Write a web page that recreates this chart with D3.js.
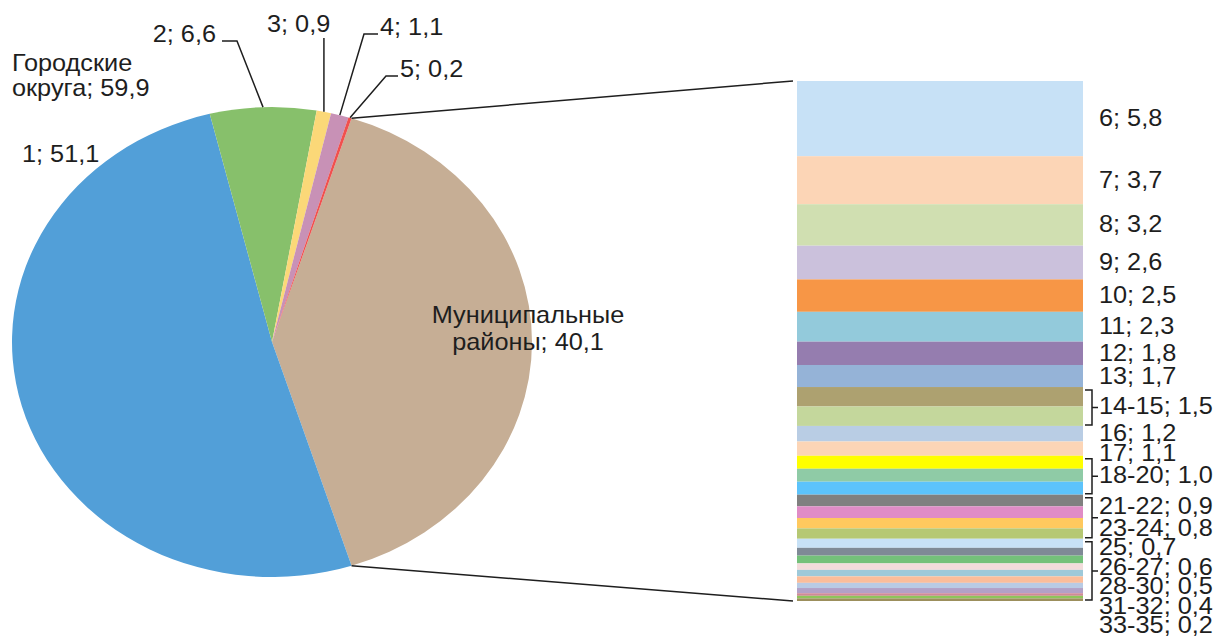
<!DOCTYPE html>
<html>
<head>
<meta charset="utf-8">
<script src="https://cdn.jsdelivr.net/npm/d3@7"></script>
<style>
  html, body { margin: 0; padding: 0; background: #ffffff; }
  svg { display: block; }
  text { font-family: "Liberation Sans", Arial, sans-serif; font-size: 23px; fill: #1e1e1e; }
</style>
</head>
<body>
<svg id="chart" width="1217" height="641"></svg>
<script>
// ---- Data ----
const pieCategories = ["1", "2", "3", "4", "5"];
const pieValues = [51.1, 6.6, 0.9, 1.1, 0.2];
const pieColors = ["#529fd8", "#87c06b", "#fbd878", "#c891b6", "#f0504e"];
const pieGroupName = "Городские округа";
const otherName = "Муниципальные районы";
const otherColor = "#c6ae95";

const stackCategories = ["6","7","8","9","10","11","12","13","14","15","16","17","18","19","20",
  "21","22","23","24","25","26","27","28","29","30","31","32","33","34","35"];
const stackValues = [5.8, 3.7, 3.2, 2.6, 2.5, 2.3, 1.8, 1.7, 1.5, 1.5, 1.2, 1.1, 1.0, 1.0, 1.0,
  0.9, 0.9, 0.8, 0.8, 0.7, 0.6, 0.6, 0.5, 0.5, 0.5, 0.4, 0.4, 0.2, 0.2, 0.2];
const stackColors = ["#c7e1f6","#fcd5b6","#d0dfb1","#cbc1dc","#f79646","#93cadb","#957daf","#95b3d7",
  "#ada170","#c4d79c","#b9cde4","#fcd5b6","#ffff00","#8fcba6","#5cc3fb",
  "#808080","#e08cc6","#ffc95e","#b6c873","#c7e1f6","#7f8a96","#74c17a","#f2dcdb","#9ec9d9","#fbbd9a",
  "#b9cbe4","#b2a1c7","#d08a98","#8fc45a","#9c8f5c"];

// label groups: [first category, last category]
const stackLabelGroups = [["6","6"],["7","7"],["8","8"],["9","9"],["10","10"],["11","11"],["12","12"],
  ["13","13"],["14","15"],["16","16"],["17","17"],["18","20"],["21","22"],["23","24"],["25","25"],
  ["26","27"],["28","30"],["31","32"],["33","35"]];
const bracketGroups = [["14","15"],["18","20"],["21","24"],["25","35"]];

const fmt = v => d3.format(".1f")(v).replace(".", ",");

// ---- Layout ----
const svg = d3.select("#chart");
const cx = 272, cy = 342, rx = 260, ry = 235;
const stackX0 = 797, stackX1 = 1083, stackTop = 81, stackBottom = 601;
const ink = "#1e1e1e";

function addText(x, y, str, anchor) {
  svg.append("text")
    .attr("transform", `translate(${x},${y}) scale(1.1,1)`)
    .attr("text-anchor", anchor || "start")
    .text(str);
}

// ---- Pie ----
const otherTotal = d3.sum(stackValues);
const pieTotal = d3.sum(pieValues) + otherTotal;
const otherAngle = 2 * Math.PI * otherTotal / pieTotal;
const startA = Math.PI / 2 - otherAngle / 2;

const pieData = [{ name: otherName, value: otherTotal, color: otherColor }]
  .concat(pieCategories.map((c, i) => ({ name: c, value: pieValues[i], color: pieColors[i] })));

const pie = d3.pie().sort(null).value(d => d.value).startAngle(startA).endAngle(startA + 2 * Math.PI);
const arcs = pie(pieData);
const arcGen = d3.arc().innerRadius(0).outerRadius(rx);

const pieG = svg.append("g").attr("transform", `translate(${cx},${cy}) scale(1,${ry / rx})`);
pieG.selectAll("path").data(arcs).join("path")
  .attr("d", arcGen)
  .attr("fill", d => d.data.color);

const edge = a => [cx + rx * Math.sin(a), cy - ry * Math.cos(a)];

// ---- Stack ----
const y = d3.scaleLinear().domain([0, otherTotal]).range([stackTop, stackBottom]);
const cum = d3.cumsum(stackValues);
const stackData = stackCategories.map((c, i) => ({
  name: c, value: stackValues[i], color: stackColors[i],
  y0: i === 0 ? 0 : cum[i - 1], y1: cum[i]
}));
svg.append("g").selectAll("rect").data(stackData).join("rect")
  .attr("x", stackX0)
  .attr("width", stackX1 - stackX0)
  .attr("y", d => y(d.y0))
  .attr("height", d => y(d.y1) - y(d.y0))
  .attr("fill", d => d.color);

// connector lines
const otherArc = arcs[0];
const pTop = edge(otherArc.startAngle), pBot = edge(otherArc.endAngle);
svg.append("line").attr("x1", pTop[0]).attr("y1", pTop[1]).attr("x2", stackX0 - 4).attr("y2", y(0))
  .attr("stroke", ink).attr("stroke-width", 1.5);
svg.append("line").attr("x1", pBot[0]).attr("y1", pBot[1]).attr("x2", stackX0 - 4).attr("y2", y(otherTotal))
  .attr("stroke", ink).attr("stroke-width", 1.5);

// ---- Pie labels ----
const groupTotal = d3.sum(pieValues);
addText(12, 71, "Городские");
addText(12, 96, "округа; " + fmt(groupTotal));
addText(22, 162, pieCategories[0] + "; " + fmt(pieValues[0]));

const mid = k => (arcs[k].startAngle + arcs[k].endAngle) / 2;
const leaders = [
  { k: 2, text: pieCategories[1] + "; " + fmt(pieValues[1]), tx: 216, ty: 42, anchor: "end", elbow: [[222, 41], [237, 41]] },
  { k: 3, text: pieCategories[2] + "; " + fmt(pieValues[2]), tx: 267, ty: 32, anchor: "start", elbow: null },
  { k: 4, text: pieCategories[3] + "; " + fmt(pieValues[3]), tx: 380, ty: 35, anchor: "start", elbow: [[378, 34], [364, 34]] },
  { k: 5, text: pieCategories[4] + "; " + fmt(pieValues[4]), tx: 400, ty: 77, anchor: "start", elbow: [[398, 76], [386, 76]] }
];
leaders.forEach(l => {
  const p = edge(mid(l.k));
  let pts;
  if (l.elbow) pts = l.elbow.concat([p]);
  else pts = [[p[0], 38], p];
  svg.append("path").attr("d", d3.line()(pts)).attr("fill", "none")
    .attr("stroke", ink).attr("stroke-width", 1.5);
  addText(l.tx, l.ty, l.text, l.anchor);
});

const otherWords = otherName.split(" ");
addText(528, 323, otherWords[0], "middle");
addText(528, 350, otherWords[1] + "; " + fmt(otherTotal), "middle");

// ---- Stack labels ----
const idx = c => stackCategories.indexOf(c);
let prev = -Infinity;
stackLabelGroups.forEach(([a, b]) => {
  const i0 = idx(a), i1 = idx(b);
  const center = (y(stackData[i0].y0) + y(stackData[i1].y1)) / 2;
  let ty = Math.max(center + 7.5, prev + 19.5);
  prev = ty;
  const name = a === b ? a : a + "-" + b;
  addText(1099, ty, name + "; " + fmt(stackValues[i0]));
});

// brackets
bracketGroups.forEach(([a, b]) => {
  const t = y(stackData[idx(a)].y0) + 3, btm = y(stackData[idx(b)].y1) - 1;
  const m = (t + btm) / 2;
  svg.append("path")
    .attr("d", `M${stackX1 + 2},${t}H${stackX1 + 9}V${btm}H${stackX1 + 2}M${stackX1 + 9},${m}H${stackX1 + 15}`)
    .attr("fill", "none").attr("stroke", ink).attr("stroke-width", 1.5);
});
</script>
</body>
</html>
